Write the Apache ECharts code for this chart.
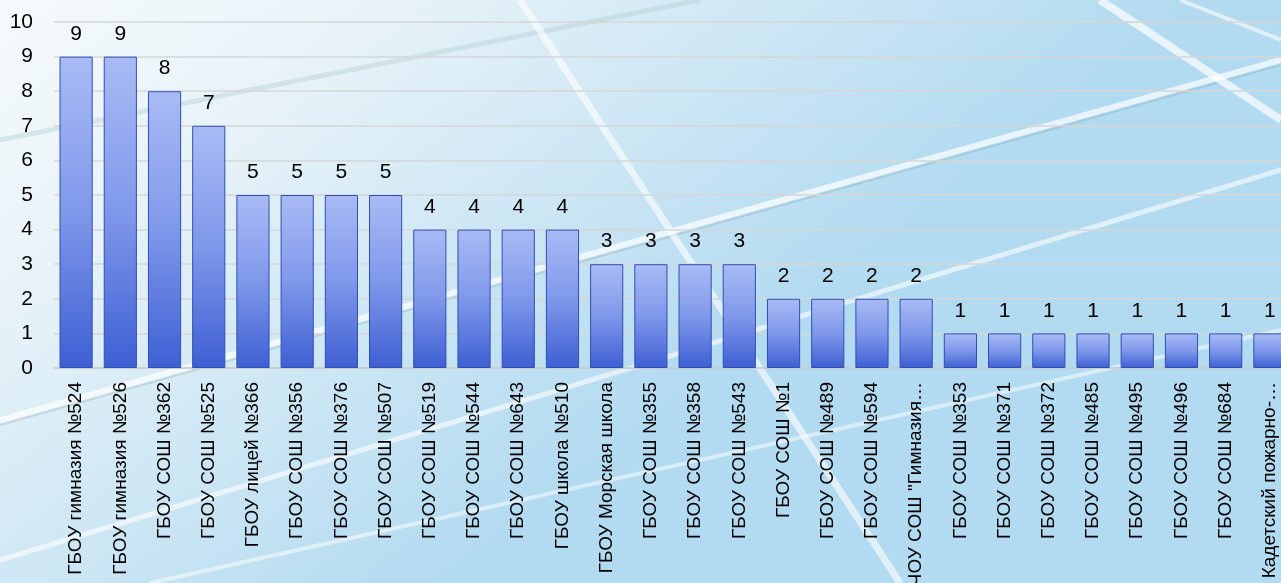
<!DOCTYPE html>
<html><head><meta charset="utf-8">
<script src="https://cdn.jsdelivr.net/npm/echarts@6/dist/echarts.min.js"></script>
<style>html,body{margin:0;padding:0;}#c{width:1281px;height:583px;}</style>
</head><body><div id="c"></div>
<script>
const categories = ['ГБОУ гимназия №524','ГБОУ гимназия №526','ГБОУ СОШ №362','ГБОУ СОШ №525','ГБОУ лицей №366','ГБОУ СОШ №356','ГБОУ СОШ №376','ГБОУ СОШ №507','ГБОУ СОШ №519','ГБОУ СОШ №544','ГБОУ СОШ №643','ГБОУ школа №510','ГБОУ Морская школа','ГБОУ СОШ №355','ГБОУ СОШ №358','ГБОУ СОШ №543','ГБОУ СОШ №1','ГБОУ СОШ №489','ГБОУ СОШ №594','ЧОУ СОШ "Гимназия…','ГБОУ СОШ №353','ГБОУ СОШ №371','ГБОУ СОШ №372','ГБОУ СОШ №485','ГБОУ СОШ №495','ГБОУ СОШ №496','ГБОУ СОШ №684','Кадетский пожарно-…'];
const values = [9,9,8,7,5,5,5,5,4,4,4,4,3,3,3,3,2,2,2,2,1,1,1,1,1,1,1,1];
const yTicks = [0,1,2,3,4,5,6,7,8,9,10];

const chart = echarts.init(document.getElementById('c'));
const F = '"Liberation Sans", Arial, sans-serif';
const streak = (x1,y1,x2,y2,w,c) => ({type:'line',silent:true,z:-10,shape:{x1,y1,x2,y2},style:{stroke:c,lineWidth:w}});
chart.setOption({
  backgroundColor: {type:'linear',x:0,y:0,x2:0.35,y2:1,colorStops:[
    {offset:0,color:'#f6fafb'},{offset:0.35,color:'#e6f2f8'},{offset:1,color:'#b2daf0'}]},
  graphic: [
    streak(0,140,700,0,5,'rgba(170,200,200,0.35)'),
    streak(0,420,1281,60,6,'rgba(255,255,255,0.7)'),
    streak(0,425,1281,65,2,'rgba(120,150,160,0.25)'),
    streak(0,560,1281,170,5,'rgba(255,255,255,0.6)'),
    streak(150,583,1281,330,4,'rgba(255,255,255,0.5)'),
    streak(520,0,900,583,7,'rgba(255,255,255,0.6)'),
    streak(1100,0,1281,120,8,'rgba(255,255,255,0.7)'),
    streak(1180,0,1281,40,4,'rgba(255,255,255,0.6)')
  ],
  grid: {left: 54, right: -11, top: 22, bottom: 215, containLabel: false, outerBoundsMode: 'none'},
  xAxis: {
    type: 'category', data: categories,
    axisLine: {show: true, lineStyle: {color: '#c8c8c8', width: 1.5}},
    axisTick: {show: false},
    axisLabel: {rotate: 90, interval: 0, margin: 14, color: '#000', fontFamily: F, fontSize: 19}
  },
  yAxis: {
    type: 'value', min: 0, max: 10, interval: 1,
    axisLine: {show: false}, axisTick: {show: false},
    axisLabel: {color: '#000', fontFamily: F, fontSize: 21, margin: 21,
      formatter: v => yTicks.includes(v) ? String(v) : ''},
    splitLine: {lineStyle: {color: '#d6d6d6', width: 1.5}}
  },
  series: [{
    type: 'bar', data: values, barCategoryGap: '25%',
    itemStyle: {
      color: {type:'linear',x:0,y:0,x2:0,y2:1,colorStops:[
        {offset:0,color:'#a9bbf5'},{offset:0.5,color:'#7f98ea'},{offset:1,color:'#3e5fd3'}]},
      borderColor: '#2f4fb5', borderWidth: 1
    },
    label: {show: true, position: 'top', distance: 12, color: '#000', fontFamily: F, fontSize: 21}
  }]
});
</script></body></html>
